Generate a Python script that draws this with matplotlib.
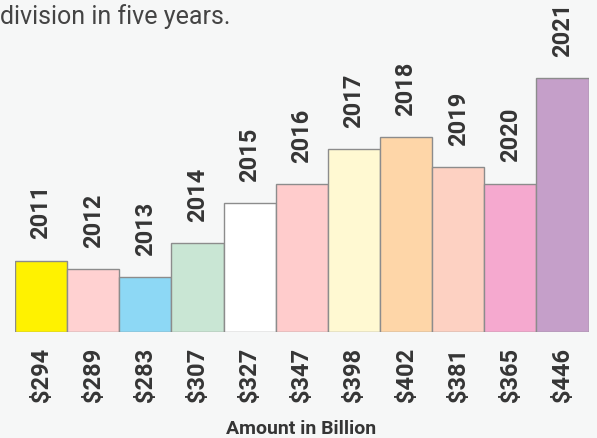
import matplotlib.pyplot as plt

plt.rcParams["font.family"] = ["Roboto", "DejaVu Sans"]

years = ["2011", "2012", "2013", "2014", "2015", "2016",
         "2017", "2018", "2019", "2020", "2021"]
value_labels = ["$294", "$289", "$283", "$307", "$327", "$347",
                "$398", "$402", "$381", "$365", "$446"]
# bar heights as drawn in the original (not proportional to the labels)
heights = [71.5, 63, 55, 89, 129.5, 148, 183, 195.5, 165, 148.5, 254]
colors = ["#fff200", "#ffd1d1", "#8dd8f5", "#c9e6d4", "#ffffff", "#ffcccc",
          "#fff9d2", "#fed6a8", "#fdd1c2", "#f5a9cf", "#c59fc9"]

BG = "#f6f7f7"
TXT = "#353535"

fig = plt.figure(figsize=(5.97, 4.39), dpi=100, facecolor=BG)
ax = fig.add_axes([15 / 597, 106 / 439, 573.5 / 597, 333 / 439])
ax.set_facecolor("none")

x = list(range(len(years)))
ax.bar(x, heights, width=1.0, color=colors, edgecolor="#8c8c8c", linewidth=1.0)
ax.set_xlim(-0.5, len(years) - 0.5)
ax.set_ylim(0, 333)
ax.axis("off")

for xi, h, yr in zip(x, heights, years):
    ax.text(xi, h + 22, yr, rotation=90, ha="center", va="bottom",
            fontsize=17, fontweight="bold", color=TXT)

for xi, lab in zip(x, value_labels):
    ax.text(xi, -15, lab, rotation=90, ha="center", va="top",
            fontsize=17, fontweight="bold", color=TXT)

fig.text(301 / 597, 1 - 429 / 439, "Amount in Billion", ha="center", va="center",
         fontsize=14, fontweight="bold", color=TXT)
fig.text(0, 1 - 17 / 439, "division in five years.", ha="left", va="center",
         fontsize=18, color="#444444")

fig.savefig("out.png", dpi=100, facecolor=BG)
